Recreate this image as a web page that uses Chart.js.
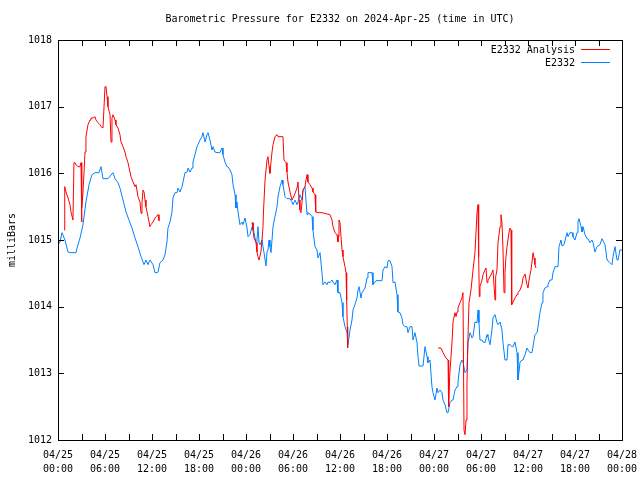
<!DOCTYPE html>
<html>
<head>
<meta charset="utf-8">
<script src="https://cdn.jsdelivr.net/npm/chart.js@4.4.1/dist/chart.umd.min.js"></script>
<style>
  html, body { margin: 0; padding: 0; background: #fff; }
  canvas { display: block; }
</style>
</head>
<body>
<canvas id="pressure" width="640" height="480"></canvas>
<script>
/* ── E2332 barometric pressure, hours since 04/25 00:00 UTC ── */

const chartTitle = 'Barometric Pressure for E2332 on 2024-Apr-25 (time in UTC)';
const yTitle = 'milliBars';
const seriesNames = ['E2332 Analysis', 'E2332'];
const xTickHours = [0, 6, 12, 18, 24, 30, 36, 42, 48, 54, 60, 66, 72];
const yTicksMb = [1012, 1013, 1014, 1015, 1016, 1017, 1018];

// station observations
const stationHours = [
    0.00, 0.26, 0.51, 0.89, 1.28, 1.53, 2.30, 2.43, 2.81, 3.19, 3.57, 3.96, 4.34, 4.72, 5.23, 5.49, 5.74, 6.38, 7.02, 7.28,
    7.66, 7.91, 8.30, 8.68, 9.06, 9.45, 9.83, 10.21, 10.60, 10.98, 11.23, 11.49, 11.74, 12.13, 12.38, 12.64, 12.77, 13.02, 13.40, 13.66,
    13.91, 14.04, 14.30, 14.55, 14.68, 14.94, 15.19, 15.32, 15.57, 15.83, 15.96, 16.21, 16.47, 16.60, 16.85, 17.11, 17.23, 17.49, 17.74, 17.87,
    18.13, 18.38, 18.51, 18.77, 19.02, 19.15, 19.40, 19.66, 19.79, 20.04, 20.30, 20.68, 20.94, 21.06, 21.32, 21.57, 21.70, 21.96, 22.21, 22.34,
    22.60, 22.72, 22.85, 22.98, 23.23, 23.49, 23.62, 23.87, 24.13, 24.26, 24.51, 24.77, 24.89, 25.02, 25.28, 25.40, 25.53, 25.66, 25.79, 26.04,
    26.17, 26.30, 26.55, 26.68, 26.81, 26.94, 27.06, 27.19, 27.32, 27.45, 27.70, 27.96, 28.09, 28.34, 28.60, 28.72, 28.98, 29.23, 29.62, 29.87,
    30.00, 30.26, 30.51, 30.64, 30.89, 31.15, 31.28, 31.53, 31.79, 31.91, 32.17, 32.43, 32.55, 32.81, 33.06, 33.19, 33.45, 33.70, 33.83, 34.09,
    34.34, 34.47, 34.72, 34.98, 35.11, 35.36, 35.62, 35.74, 36.00, 36.26, 36.38, 36.64, 36.89, 37.02, 37.28, 37.53, 37.66, 37.91, 38.17, 38.30,
    38.43, 38.68, 38.81, 39.19, 39.45, 39.57, 40.09, 40.21, 40.60, 41.36, 41.49, 41.74, 42.00, 42.13, 42.38, 42.64, 42.77, 43.02, 43.28, 43.40,
    43.66, 43.91, 44.04, 44.30, 44.55, 44.68, 44.94, 45.19, 45.32, 45.57, 45.83, 45.96, 46.09, 46.60, 46.85, 47.11, 47.23, 47.49, 47.74, 47.87,
    48.13, 48.38, 48.51, 48.77, 49.02, 49.15, 49.40, 49.66, 49.79, 50.04, 50.30, 50.43, 50.68, 50.94, 51.06, 51.32, 51.57, 51.70, 51.96, 52.21,
    52.34, 52.60, 52.85, 52.98, 53.23, 53.49, 53.62, 53.74, 53.87, 54.13, 54.26, 54.51, 54.77, 54.89, 55.15, 55.40, 55.53, 55.79, 56.04, 56.17,
    56.43, 56.68, 56.81, 57.06, 57.32, 57.45, 57.70, 57.96, 58.09, 58.34, 58.60, 58.72, 58.85, 58.98, 59.23, 59.36, 59.62, 59.87, 60.00, 60.26,
    60.51, 60.64, 60.89, 61.15, 61.28, 61.53, 61.79, 61.91, 62.17, 62.43, 62.55, 62.81, 63.06, 63.19, 63.45, 63.83, 63.96, 64.21, 64.34, 64.60,
    64.85, 64.98, 65.11, 65.36, 65.62, 65.74, 66.00, 66.26, 66.38, 66.51, 66.77, 66.89, 67.02, 67.28, 67.53, 67.66, 67.91, 68.17, 68.30, 68.55,
    68.81, 69.19, 69.45, 69.57, 69.83, 70.09, 70.21, 70.47, 70.72, 70.85, 71.11, 71.36, 71.49, 71.74, 72.00,
];
const stationMb = [
    1014.93, 1014.97, 1015.11, 1015.00, 1014.82, 1014.81, 1014.81, 1014.88, 1015.03, 1015.23, 1015.57, 1015.83, 1015.98, 1016.01, 1016.01, 1016.10, 1015.92, 1015.92, 1016.01, 1015.92,
    1015.86, 1015.78, 1015.60, 1015.42, 1015.30, 1015.18, 1015.03, 1014.90, 1014.75, 1014.63, 1014.70, 1014.63, 1014.70, 1014.63, 1014.51, 1014.51, 1014.52, 1014.66, 1014.70, 1014.78,
    1014.97, 1015.18, 1015.27, 1015.42, 1015.63, 1015.71, 1015.71, 1015.78, 1015.72, 1015.80, 1015.87, 1016.01, 1016.02, 1016.08, 1016.02, 1016.08, 1016.17, 1016.28, 1016.40, 1016.43,
    1016.50, 1016.55, 1016.61, 1016.47, 1016.58, 1016.61, 1016.50, 1016.35, 1016.40, 1016.32, 1016.31, 1016.31, 1016.38, 1016.28, 1016.17, 1016.10, 1016.10, 1016.05, 1015.98, 1015.83,
    1015.68, 1015.48, 1015.57, 1015.42, 1015.23, 1015.27, 1015.23, 1015.33, 1015.18, 1015.05, 1015.08, 1015.20, 1015.26, 1015.11, 1014.96, 1015.00, 1015.20, 1014.96, 1014.93, 1015.00,
    1014.90, 1014.81, 1014.61, 1014.82, 1014.85, 1015.00, 1014.90, 1014.81, 1015.00, 1015.20, 1015.35, 1015.50, 1015.65, 1015.80, 1015.90, 1015.83, 1015.65, 1015.62, 1015.62, 1015.57,
    1015.53, 1015.60, 1015.53, 1015.57, 1015.68, 1015.60, 1015.75, 1015.80, 1015.38, 1015.41, 1015.39, 1015.35, 1015.15, 1014.90, 1014.85, 1014.73, 1014.81, 1014.51, 1014.33, 1014.37,
    1014.33, 1014.37, 1014.36, 1014.40, 1014.37, 1014.33, 1014.40, 1014.21, 1014.21, 1014.06, 1013.85, 1013.70, 1013.61, 1013.43, 1013.65, 1013.80, 1013.95, 1014.03, 1014.13, 1014.25,
    1014.30, 1014.13, 1014.21, 1014.28, 1014.43, 1014.51, 1014.51, 1014.33, 1014.39, 1014.39, 1014.55, 1014.60, 1014.58, 1014.69, 1014.69, 1014.60, 1014.36, 1014.37, 1014.18, 1013.92,
    1013.91, 1013.83, 1013.73, 1013.70, 1013.70, 1013.61, 1013.70, 1013.70, 1013.50, 1013.61, 1013.46, 1013.25, 1013.11, 1013.11, 1013.40, 1013.25, 1013.16, 1013.20, 1012.80, 1012.71,
    1012.60, 1012.78, 1012.71, 1012.75, 1012.71, 1012.60, 1012.53, 1012.41, 1012.41, 1012.56, 1012.60, 1012.60, 1012.75, 1012.80, 1012.87, 1013.13, 1013.20, 1013.17, 1013.01, 1013.05,
    1013.46, 1013.61, 1013.53, 1013.55, 1013.77, 1013.76, 1013.95, 1013.76, 1013.50, 1013.50, 1013.47, 1013.46, 1013.58, 1013.55, 1013.43, 1013.65, 1013.83, 1013.88, 1013.76, 1013.73,
    1013.77, 1013.65, 1013.46, 1013.20, 1013.20, 1013.43, 1013.43, 1013.40, 1013.40, 1013.47, 1013.31, 1012.90, 1013.02, 1013.17, 1013.20, 1013.20, 1013.28, 1013.38, 1013.35, 1013.31,
    1013.31, 1013.40, 1013.58, 1013.61, 1013.70, 1013.91, 1014.06, 1014.21, 1014.28, 1014.30, 1014.33, 1014.40, 1014.40, 1014.51, 1014.60, 1014.60, 1014.90, 1015.00, 1014.91, 1014.93,
    1015.05, 1015.11, 1015.05, 1015.11, 1015.11, 1015.05, 1015.00, 1015.11, 1015.27, 1015.32, 1015.20, 1015.12, 1015.20, 1015.08, 1015.02, 1015.02, 1014.96, 1015.00, 1014.96, 1014.82,
    1014.90, 1014.93, 1015.02, 1015.02, 1014.93, 1014.70, 1014.70, 1014.66, 1014.63, 1014.75, 1014.90, 1014.70, 1014.70, 1014.85, 1014.85,
];

// analysis, null = no analysis available (gap)
const analysisHours = [
    0.77, 0.83, 0.89, 1.02, 1.28, 1.53, 1.66, 1.91, 2.04, 2.17, 2.30, 2.55, 2.81, 2.94, 3.00, 3.06, 3.19, 3.32, 3.45, 3.57,
    3.83, 4.09, 4.21, 4.47, 4.72, 4.85, 5.11, 5.36, 5.49, 5.74, 5.87, 6.00, 6.13, 6.26, 6.38, 6.64, 6.77, 6.89, 7.02, 7.28,
    7.40, 7.66, 7.91, 8.04, 8.30, 8.55, 8.68, 8.94, 9.19, 9.32, 9.57, 9.83, 9.96, 10.21, 10.47, 10.60, 10.72, 10.85, 10.98, 11.11,
    11.23, 11.49, 11.74, 11.87, 12.13, 12.38, 12.51, 12.77, 12.89,
    18.00,
    24.77, 24.89, 25.02, 25.28, 25.40, 25.53, 25.66, 25.91, 26.04, 26.17, 26.23, 26.43, 26.68, 26.81, 26.94, 27.06, 27.19, 27.32, 27.45, 27.70,
    27.96, 28.09, 28.72, 28.85, 29.11, 29.23, 29.36, 29.62, 29.87, 30.00, 30.26, 30.51, 30.64, 30.77, 30.89, 31.02, 31.15, 31.28, 31.53, 31.66,
    31.79, 31.91, 32.17, 32.43, 32.55, 32.81, 32.90, 33.19, 33.70, 34.34, 34.72, 34.98, 35.11, 35.36, 35.62, 35.74, 35.81, 35.87, 36.00, 36.13,
    36.26, 36.38, 36.64, 36.77, 36.85, 36.93, 36.98,
    42.00,
    48.51, 48.89, 49.15, 49.53, 49.79, 49.83, 49.91, 50.00, 50.17, 50.30, 50.43, 50.68, 50.81, 50.94, 51.06, 51.32, 51.57, 51.70, 51.83, 51.96,
    52.09, 52.21, 52.34, 52.47, 52.72, 52.85, 52.98, 53.23, 53.36, 53.49, 53.62, 53.70, 53.79, 53.87, 54.13, 54.26, 54.51, 54.64, 54.77, 54.89,
    55.15, 55.40, 55.53, 55.79, 55.87, 56.04, 56.17, 56.43, 56.55, 56.68, 56.81, 56.94, 57.06, 57.19, 57.32, 57.57, 57.70, 57.83, 57.92, 58.09,
    58.34, 58.60, 58.72, 58.98, 59.23, 59.36, 59.62, 59.87, 60.00, 60.13, 60.38, 60.51, 60.64, 60.77, 60.89, 61.02,
];
const analysisMb = [
    1015.15, 1015.48, 1015.80, 1015.72, 1015.63, 1015.53, 1015.42, 1015.30, 1016.16, 1016.16, 1016.13, 1016.10, 1016.10, 1016.16, 1015.27, 1015.48, 1015.72, 1016.01, 1016.32, 1016.55,
    1016.73, 1016.80, 1016.83, 1016.83, 1016.85, 1016.80, 1016.76, 1016.73, 1016.70, 1016.68, 1016.98, 1017.30, 1017.30, 1017.15, 1017.00, 1016.88, 1016.47, 1016.83, 1016.88, 1016.80,
    1016.73, 1016.68, 1016.58, 1016.47, 1016.40, 1016.32, 1016.25, 1016.16, 1016.02, 1015.95, 1015.87, 1015.80, 1015.83, 1015.65, 1015.57, 1015.40, 1015.56, 1015.75, 1015.72, 1015.60,
    1015.50, 1015.35, 1015.20, 1015.23, 1015.27, 1015.33, 1015.35, 1015.38, 1015.29,
    null,
    1015.26, 1015.15, 1015.03, 1014.96, 1014.82, 1014.75, 1014.70, 1014.82, 1015.00, 1015.20, 1015.42, 1015.90, 1016.20, 1016.25, 1016.10, 1016.00, 1016.17, 1016.32, 1016.43, 1016.55,
    1016.58, 1016.55, 1016.55, 1016.20, 1016.16, 1016.02, 1015.87, 1015.72, 1015.60, 1015.63, 1015.70, 1015.78, 1015.87, 1015.60, 1015.45, 1015.41, 1015.56, 1015.75, 1015.80, 1015.90,
    1015.98, 1015.87, 1015.83, 1015.78, 1015.72, 1015.68, 1015.42, 1015.41, 1015.41, 1015.39, 1015.38, 1015.30, 1015.20, 1015.11, 1015.08, 1014.97, 1015.05, 1015.30, 1015.26, 1015.05,
    1014.85, 1014.75, 1014.60, 1014.51, 1014.10, 1013.70, 1013.38,
    null,
    1013.38, 1013.38, 1013.31, 1013.23, 1013.20, 1012.65, 1012.50, 1012.95, 1013.25, 1013.47, 1013.77, 1013.91, 1013.85, 1013.92, 1013.98, 1014.06, 1014.13, 1014.21, 1012.15, 1012.08,
    1012.30, 1012.86, 1013.55, 1014.06, 1014.25, 1014.40, 1014.55, 1014.81, 1015.11, 1015.41, 1015.53, 1014.75, 1014.15, 1014.30, 1014.40, 1014.48, 1014.55, 1014.58, 1014.36, 1014.40,
    1014.45, 1014.51, 1014.55, 1014.10, 1014.45, 1014.55, 1014.96, 1015.20, 1015.38, 1015.26, 1014.85, 1014.21, 1014.51, 1014.75, 1014.90, 1015.11, 1015.18, 1015.15, 1014.03, 1014.07,
    1014.13, 1014.18, 1014.21, 1014.25, 1014.33, 1014.43, 1014.49, 1014.33, 1014.28, 1014.40, 1014.55, 1014.67, 1014.81, 1014.73, 1014.63, 1014.58,
];

const FONT = "'DejaVu Sans Mono', 'Liberation Mono', monospace";
const toPoints = (xs, ys) => xs.map((x, i) => ({ x, y: ys[i] }));

function tickLabel(v) {
    if (v % 6 !== 0) return '';
    const day = 25 + Math.floor(v / 24);
    const hh = String(v % 24).padStart(2, '0');
    return ['04/' + day, hh + ':00'];
}

// gnuplot-like frame: box, inward ticks on all four sides, title, legend inside top-right
const gnuplotFrame = {
    id: 'gnuplotFrame',
    afterDatasetsDraw(chart) {
        const { ctx, chartArea: a, scales } = chart;
        const len = 6;
        ctx.save();
        ctx.strokeStyle = '#000';
        ctx.lineWidth = 1;
        ctx.strokeRect(a.left + 0.5, a.top + 0.5, a.right - a.left, a.bottom - a.top);
        ctx.beginPath();
        scales.x.ticks.forEach(t => {
            const px = Math.round(scales.x.getPixelForValue(t.value)) + 0.5;
            ctx.moveTo(px, a.bottom); ctx.lineTo(px, a.bottom - len);
            ctx.moveTo(px, a.top); ctx.lineTo(px, a.top + len);
        });
        scales.y.ticks.forEach(t => {
            const py = Math.round(scales.y.getPixelForValue(t.value)) + 0.5;
            ctx.moveTo(a.left, py); ctx.lineTo(a.left + len, py);
            ctx.moveTo(a.right, py); ctx.lineTo(a.right - len, py);
        });
        ctx.stroke();

        // title
        ctx.fillStyle = '#000';
        ctx.font = '10px ' + FONT;
        ctx.textAlign = 'center';
        ctx.textBaseline = 'middle';
        ctx.fillText(chartTitle, (a.left + a.right) / 2, 19);

        // legend
        ctx.textAlign = 'right';
        chart.data.datasets.forEach((ds, i) => {
            const y = a.top + 10 + i * 13;
            ctx.fillStyle = '#000';
            ctx.fillText(ds.label, a.right - 47, y);
            ctx.strokeStyle = ds.borderColor;
            ctx.beginPath();
            ctx.moveTo(a.right - 41, y - 0.5);
            ctx.lineTo(a.right - 12, y - 0.5);
            ctx.stroke();
        });
        ctx.restore();
    },
};

new Chart(document.getElementById('pressure'), {
    type: 'line',
    data: {
        datasets: [
            {
                label: seriesNames[0],
                data: toPoints(analysisHours, analysisMb),
                borderColor: '#ff0000',
                borderWidth: 1,
                pointRadius: 0,
                spanGaps: false,
                tension: 0,
            },
            {
                label: seriesNames[1],
                data: toPoints(stationHours, stationMb),
                borderColor: '#0080ff',
                borderWidth: 1,
                pointRadius: 0,
                tension: 0,
            },
        ],
    },
    options: {
        responsive: false,
        animation: false,
        devicePixelRatio: 1,
        layout: { padding: { top: 40, right: 18, left: 0, bottom: 0 } },
        plugins: {
            legend: { display: false },
            tooltip: { enabled: false },
        },
        scales: {
            x: {
                type: 'linear',
                min: xTickHours[0],
                max: xTickHours[xTickHours.length - 1],
                grid: { display: false, drawTicks: false },
                border: { display: false },
                afterFit: s => { s.height = 40; s.paddingLeft = 0; s.paddingRight = 0; },
                ticks: {
                    stepSize: 3,
                    autoSkip: false,
                    maxRotation: 0,
                    padding: 8,
                    color: '#000',
                    font: { family: FONT, size: 10, lineHeight: 1.4 },
                    callback: v => tickLabel(v),
                },
            },
            y: {
                min: yTicksMb[0],
                max: yTicksMb[yTicksMb.length - 1],
                grid: { display: false, drawTicks: false },
                border: { display: false },
                afterFit: s => { s.width = 58; s.paddingTop = 0; s.paddingBottom = 0; },
                title: {
                    display: true,
                    text: yTitle,
                    color: '#000',
                    font: { family: FONT, size: 10 },
                    padding: { top: 6, bottom: 0 },
                },
                ticks: {
                    stepSize: 1,
                    padding: 6,
                    color: '#000',
                    font: { family: FONT, size: 10 },
                    callback: v => String(v),
                },
            },
        },
    },
    plugins: [gnuplotFrame],
});
</script>
</body>
</html>
